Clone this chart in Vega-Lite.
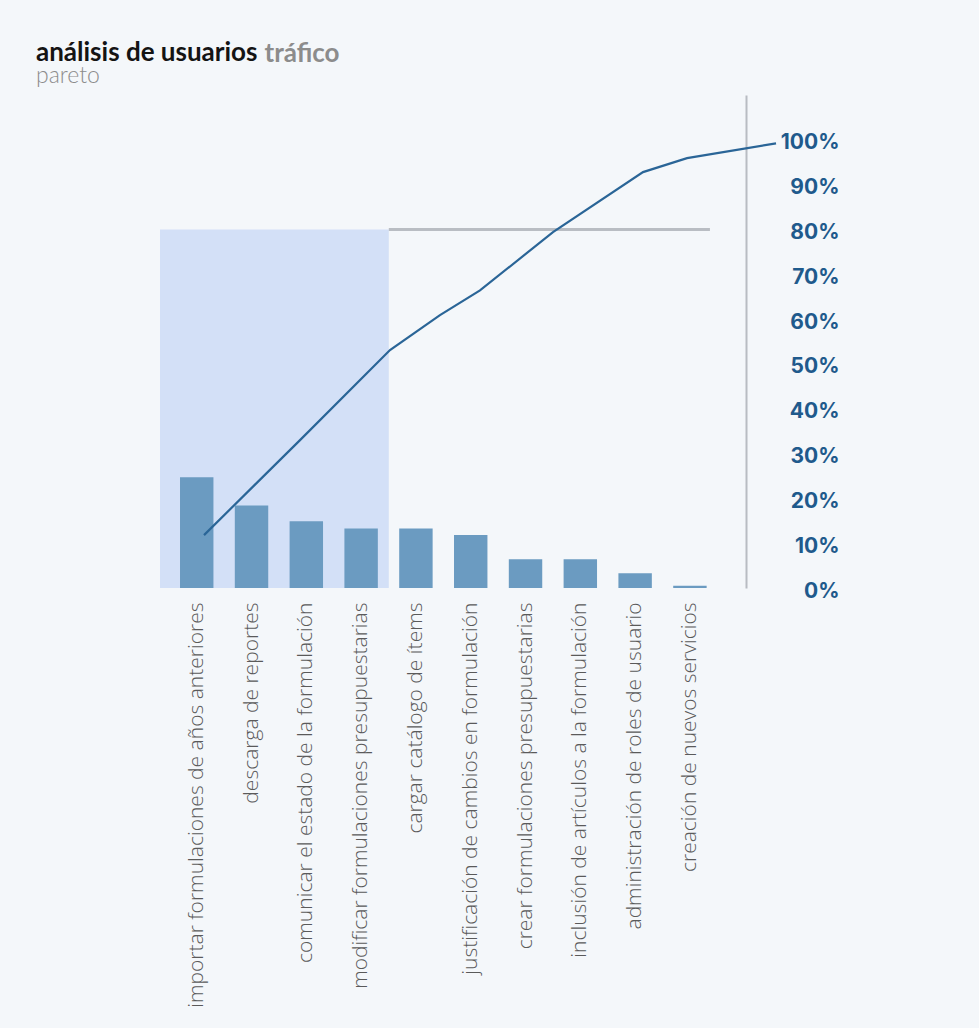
{
  "$schema": "https://vega.github.io/schema/vega-lite/v6.json",
  "width": 586,
  "height": 493,
  "padding": {"left": 36, "top": 40, "right": 150, "bottom": 40},
  "background": "#f4f7fa",
  "config": {"view": {"stroke": null}, "font": "Lato"},
  "title": {
    "text": "análisis de usuarios",
    "subtitle": "pareto",
    "anchor": "start",
    "frame": "group",
    "dx": -124,
    "offset": -48,
    "font": "Lato",
    "fontSize": 26,
    "fontWeight": "bold",
    "color": "#141414",
    "subtitleFont": "Lato",
    "subtitleFontSize": 23,
    "subtitleFontWeight": 300,
    "subtitleColor": "#8c8c8c",
    "subtitlePadding": -1
  },
  "datasets": {
    "usos": [
      {"funcionalidad": "importar formulaciones de años anteriores", "pct": 0.247},
      {"funcionalidad": "descarga de reportes", "pct": 0.184},
      {"funcionalidad": "comunicar el estado de la formulación", "pct": 0.149},
      {"funcionalidad": "modificar formulaciones presupuestarias", "pct": 0.133},
      {"funcionalidad": "cargar catálogo de ítems", "pct": 0.133},
      {"funcionalidad": "justificación de cambios en formulación", "pct": 0.118},
      {"funcionalidad": "crear formulaciones presupuestarias", "pct": 0.064},
      {"funcionalidad": "inclusión de artículos a la formulación", "pct": 0.064},
      {"funcionalidad": "administración de roles de usuario", "pct": 0.033},
      {"funcionalidad": "creación de nuevos servicios", "pct": 0.005}
    ],
    "zona": [{"inicio": 0.325, "fin": 4.5, "pct": 0, "tope": 0.8}],
    "umbral": [{"desde": 4.5, "hasta": 10.36, "pct": 0.8}],
    "acumulado": [
      {"posicion": 1.128, "pct": 0.118},
      {"posicion": 2.88, "pct": 0.33},
      {"posicion": 4.522, "pct": 0.531},
      {"posicion": 5.434, "pct": 0.609},
      {"posicion": 6.164, "pct": 0.664},
      {"posicion": 7.496, "pct": 0.794},
      {"posicion": 9.139, "pct": 0.928},
      {"posicion": 9.942, "pct": 0.959},
      {"posicion": 11.566, "pct": 0.992}
    ]
  },
  "encoding": {
    "y": {
      "field": "pct",
      "type": "quantitative",
      "scale": {"domain": [0, 1.1], "nice": false},
      "axis": {
        "orient": "right",
        "values": [0, 0.1, 0.2, 0.3, 0.4, 0.5, 0.6, 0.7, 0.8, 0.9, 1],
        "format": ".0%",
        "title": null,
        "grid": false,
        "ticks": false,
        "tickSize": 0,
        "domainColor": "#b8bcc2",
        "domainWidth": 2,
        "labelFont": "Inter",
        "labelFontSize": 21,
        "labelFontWeight": "bold",
        "labelColor": "#1f5a8c",
        "labelAlign": "right",
        "labelPadding": 93,
        "labelOffset": 3,
        "labelBaseline": "middle"
      }
    }
  },
  "layer": [
    {
      "data": {"name": "zona"},
      "mark": {"type": "rect", "color": "#d3e0f7"},
      "encoding": {
        "x": {"field": "inicio", "type": "quantitative", "scale": {"domain": [0.325, 11.018], "nice": false, "zero": false}, "axis": null},
        "x2": {"field": "fin"},
        "y2": {"field": "tope"}
      }
    },
    {
      "data": {"name": "usos"},
      "mark": {"type": "bar", "color": "#6b9bc1"},
      "encoding": {
        "x": {
          "field": "funcionalidad",
          "type": "nominal",
          "sort": null,
          "scale": {"paddingInner": 0.39, "paddingOuter": 0.5417, "align": 0.337},
          "axis": {
            "title": null,
            "labelAngle": 270,
            "labelPadding": 14,
            "ticks": false,
            "domain": false,
            "labelFont": "Open Sans",
            "labelFontSize": 21,
            "labelFontWeight": 300,
            "labelColor": "#5a5a5a",
            "labelLimit": 0
          }
        }
      }
    },
    {
      "data": {"name": "umbral"},
      "mark": {"type": "rule", "color": "#b9bdc3", "strokeWidth": 3},
      "encoding": {
        "x": {"field": "desde", "type": "quantitative", "scale": {"domain": [0.325, 11.018], "nice": false, "zero": false}, "axis": null},
        "x2": {"field": "hasta"}
      }
    },
    {
      "data": {"name": "acumulado"},
      "mark": {"type": "line", "color": "#2a6597", "strokeWidth": 2.2},
      "encoding": {
        "x": {
          "field": "posicion",
          "type": "quantitative",
          "scale": {"domain": [0.325, 11.018], "nice": false, "zero": false},
          "axis": {
            "orient": "top",
            "title": "tráfico",
            "labels": false,
            "ticks": false,
            "domain": false,
            "grid": false,
            "titleFont": "Lato",
            "titleFontSize": 26,
            "titleFontWeight": "bold",
            "titleColor": "#8c8c8c",
            "titleAlign": "left",
            "titleAnchor": "start",
            "titleBaseline": "alphabetic",
            "titleX": 104,
            "titleY": -34
          }
        }
      }
    }
  ],
  "resolve": {"scale": {"x": "independent"}, "axis": {"x": "independent"}}
}
